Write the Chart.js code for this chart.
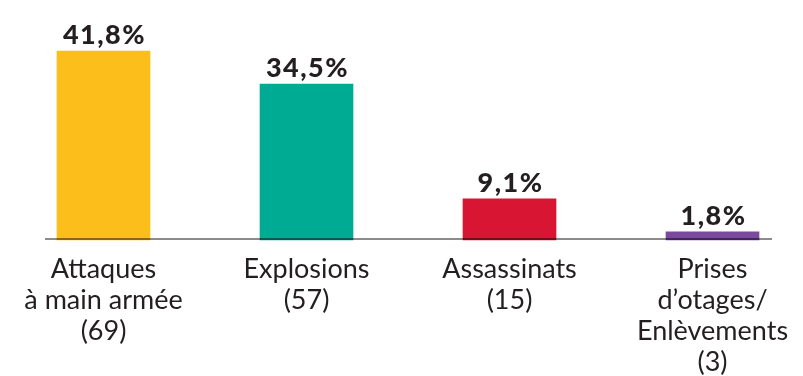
<!DOCTYPE html>
<html><head><meta charset="utf-8">
<script src="https://cdn.jsdelivr.net/npm/chart.js@4"></script>
<style>html,body{margin:0;padding:0;background:#fff;}#wrap{width:803px;height:376px;}</style>
</head><body><div id="wrap"><canvas id="c" width="803" height="376"></canvas></div>
<script>
const categories = [
  ["Attaques", "à main armée", "(69)"],
  ["Explosions", "(57)"],
  ["Assassinats", "(15)"],
  ["Prises", "d’otages/", "Enlèvements", "(3)"]
];
const percentages = [41.8, 34.5, 9.1, 1.8];
const valueLabels = ["41,8%", "34,5%", "9,1%", "1,8%"];
const barColors = ["#FCBE1A", "#00AB93", "#D81533", "#7B4A9E"];

const overlay = {
  id: 'overlay',
  afterDatasetsDraw(chart) {
    const ctx = chart.ctx;
    const meta = chart.getDatasetMeta(0);
    const y0 = chart.scales.y.getPixelForValue(0);
    ctx.save();
    ctx.fillStyle = 'rgba(0,0,0,0.45)';
    ctx.fillRect(45, y0 - 2, 727, 2);
    ctx.fillStyle = '#231f20';
    ctx.font = '900 27px Lato';
    ctx.letterSpacing = '1.5px';
    ctx.textAlign = 'center';
    ctx.textBaseline = 'alphabetic';
    meta.data.forEach((bar, i) => {
      ctx.fillText(valueLabels[i], bar.x + 1, bar.y - 7);
    });
    ctx.restore();
  }
};

new Chart(document.getElementById('c'), {
  type: 'bar',
  data: {
    labels: categories,
    datasets: [{
      data: percentages,
      backgroundColor: barColors,
      borderWidth: 0,
      barThickness: 93,
      clip: false
    }]
  },
  options: {
    responsive: false,
    animation: false,
    events: [],
    layout: { padding: { top: 14, left: 103.5, right: 90.5, bottom: 0 } },
    plugins: { legend: { display: false }, tooltip: { enabled: false } },
    scales: {
      x: {
        offset: false,
        grid: { display: false, drawTicks: false },
        border: { display: false },
        ticks: {
          color: '#231f20',
          font: { family: 'Lato', size: 27, lineHeight: '31px' },
          padding: 14,
          maxRotation: 0,
          autoSkip: false
        },
        afterFit(scale) { scale.height = 136; }
      },
      y: { display: false, min: 0, max: 50 }
    }
  },
  plugins: [overlay]
});
</script></body></html>
